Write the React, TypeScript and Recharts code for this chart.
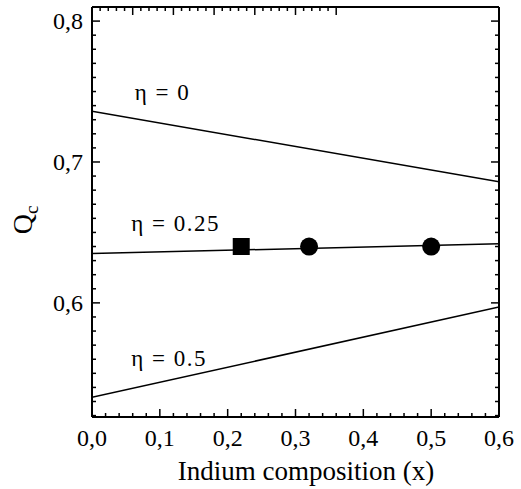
import { ComposedChart, Line, Scatter, XAxis, YAxis, ZAxis, ReferenceDot } from "recharts";

// line end points (x = 0 and x = 0.6)
const xEnds = [0, 0.6];
const eta0 = [0.736, 0.686];
const eta025 = [0.635, 0.642];
const eta05 = [0.533, 0.597];

// measured points
const squareX = [0.22];
const squareY = [0.64];
const circleX = [0.32, 0.5];
const circleY = [0.64, 0.64];

// axis ticks (every tick drawn, labels on the major ones)
const xTicks = [0, 0.02, 0.04, 0.06, 0.08, 0.1, 0.12, 0.14, 0.16, 0.18, 0.2, 0.22, 0.24, 0.26, 0.28, 0.3, 0.32, 0.34, 0.36, 0.38, 0.4, 0.42, 0.44, 0.46, 0.48, 0.5, 0.52, 0.54, 0.56, 0.58, 0.6];
const xMajor = [0, 0.1, 0.2, 0.3, 0.4, 0.5, 0.6];
const yTicks = [0.52, 0.53, 0.54, 0.55, 0.56, 0.57, 0.58, 0.59, 0.6, 0.61, 0.62, 0.63, 0.64, 0.65, 0.66, 0.67, 0.68, 0.69, 0.7, 0.71, 0.72, 0.73, 0.74, 0.75, 0.76, 0.77, 0.78, 0.79, 0.8];
const yMajor = [0.6, 0.7, 0.8];

// curve labels
const labelText = ["η = 0", "η = 0.25", "η = 0.5"];
const labelX = [0.063, 0.058, 0.058];
const labelY = [0.75, 0.657, 0.561];

const xDomain = [0, 0.6];
const yDomain = [0.519, 0.81];

const toLine = (ys: number[]) => xEnds.map((x, i) => ({ x, y: ys[i] }));
const toPoints = (xs: number[], ys: number[]) => xs.map((x, i) => ({ x, y: ys[i] }));

const FONT = "'Liberation Serif', 'DejaVu Serif', serif";
const fmt = (v: number) => v.toFixed(1).replace(".", ",");
const isMajor = (list: number[], v: number) => list.some((m) => Math.abs(m - v) < 1e-6);

const MAJOR = 8;
const MINOR = 4;
const X_GAP = 12;
const Y_GAP = 9;

function BottomTick({ x, y, payload }: any) {
  const major = isMajor(xMajor, payload.value);
  const axisY = y - X_GAP;
  return (
    <g>
      <line x1={x} x2={x} y1={axisY} y2={axisY - (major ? MAJOR : MINOR)} stroke="#000" strokeWidth={1.5} />
      {major && (
        <text x={x} y={y} dy="0.71em" textAnchor="middle" fill="#000" style={{ fontFamily: FONT, fontSize: 24 }}>
          {fmt(payload.value)}
        </text>
      )}
    </g>
  );
}

function LeftTick({ x, y, payload }: any) {
  const major = isMajor(yMajor, payload.value);
  const axisX = x + Y_GAP;
  return (
    <g>
      <line x1={axisX} x2={axisX + (major ? MAJOR : MINOR)} y1={y} y2={y} stroke="#000" strokeWidth={1.5} />
      {major && (
        <text x={x} y={y} dy="0.35em" textAnchor="end" fill="#000" style={{ fontFamily: FONT, fontSize: 24 }}>
          {fmt(payload.value)}
        </text>
      )}
    </g>
  );
}

function TopTick({ x, y, payload }: any) {
  const major = isMajor(xMajor, payload.value);
  return <line x1={x} x2={x} y1={y} y2={y + (major ? MAJOR : MINOR)} stroke="#000" strokeWidth={1.5} />;
}

function RightTick({ x, y, payload }: any) {
  const major = isMajor(yMajor, payload.value);
  return <line x1={x} x2={x - (major ? MAJOR : MINOR)} y1={y} y2={y} stroke="#000" strokeWidth={1.5} />;
}

function CurveLabel({ viewBox, value }: any) {
  return (
    <text x={viewBox.x} y={viewBox.y} dy="0.35em" fill="#000" style={{ fontFamily: FONT, fontSize: 23, letterSpacing: 1.5 }}>
      {value}
    </text>
  );
}

export default function App() {
  const frame = { stroke: "#000", strokeWidth: 2 };
  return (
    <div style={{ position: "absolute", left: 0, top: 0, background: "#fff", fontFamily: FONT }}>
      <ComposedChart width={521} height={489} margin={{ top: 6, right: 21, left: 0, bottom: 0 }}>
        <XAxis
          xAxisId="b"
          type="number"
          dataKey="x"
          domain={xDomain}
          ticks={xTicks}
          interval={0}
          tickFormatter={(v: number) => (isMajor(xMajor, v) ? fmt(v) : "")}
          height={72}
          tickSize={0}
          tickLine={false}
          tickMargin={X_GAP}
          tick={<BottomTick />}
          axisLine={frame}
          allowDataOverflow
          label={{
            content: () => (
              <text x={306} y={480} textAnchor="middle" fill="#000" style={{ fontFamily: FONT, fontSize: 27 }}>
                Indium composition (x)
              </text>
            ),
          }}
        />
        <XAxis
          xAxisId="t"
          orientation="top"
          type="number"
          domain={xDomain}
          ticks={xTicks}
          interval={0}
          tickFormatter={() => ""}
          height={1}
          tickSize={0}
          tickMargin={0}
          tickLine={false}
          tick={<TopTick />}
          axisLine={frame}
          allowDataOverflow
        />
        <YAxis
          yAxisId="l"
          type="number"
          dataKey="y"
          domain={yDomain}
          ticks={yTicks}
          interval={0}
          tickFormatter={(v: number) => (isMajor(yMajor, v) ? fmt(v) : "")}
          width={92}
          tickSize={0}
          tickLine={false}
          tickMargin={Y_GAP}
          tick={<LeftTick />}
          axisLine={frame}
          allowDataOverflow
          label={{
            content: () => (
              <text transform="translate(32,220) rotate(-90)" textAnchor="middle" fill="#000" style={{ fontFamily: FONT, fontSize: 28 }}>
                Q<tspan style={{ fontSize: 19 }} dy={6}>c</tspan>
              </text>
            ),
          }}
        />
        <YAxis
          yAxisId="r"
          orientation="right"
          type="number"
          domain={yDomain}
          ticks={yTicks}
          interval={0}
          tickFormatter={() => ""}
          width={1}
          tickSize={0}
          tickMargin={0}
          tickLine={false}
          tick={<RightTick />}
          axisLine={frame}
          allowDataOverflow
        />
        <ZAxis zAxisId="sq" range={[289, 289]} />
        <ZAxis zAxisId="ci" range={[254, 254]} />

        {/* invisible series so the top / right frame axes get drawn */}
        <Line xAxisId="t" yAxisId="r" data={toLine(eta0)} dataKey="y" stroke="none" dot={false} activeDot={false} legendType="none" isAnimationActive={false} />

        <Line xAxisId="b" yAxisId="l" data={toLine(eta0)} dataKey="y" stroke="#000" strokeWidth={1.5} dot={false} isAnimationActive={false} />
        <Line xAxisId="b" yAxisId="l" data={toLine(eta025)} dataKey="y" stroke="#000" strokeWidth={1.5} dot={false} isAnimationActive={false} />
        <Line xAxisId="b" yAxisId="l" data={toLine(eta05)} dataKey="y" stroke="#000" strokeWidth={1.5} dot={false} isAnimationActive={false} />
        <Scatter xAxisId="b" yAxisId="l" zAxisId="sq" data={toPoints(squareX, squareY)} dataKey="y" shape="square" fill="#000" isAnimationActive={false} legendType="none" />
        <Scatter xAxisId="b" yAxisId="l" zAxisId="ci" data={toPoints(circleX, circleY)} dataKey="y" shape="circle" fill="#000" isAnimationActive={false} legendType="none" />

        {labelText.map((t, i) => (
          <ReferenceDot key={t} xAxisId="b" yAxisId="l" x={labelX[i]} y={labelY[i]} r={0} fill="none" stroke="none" label={<CurveLabel value={t} />} />
        ))}
      </ComposedChart>
    </div>
  );
}
